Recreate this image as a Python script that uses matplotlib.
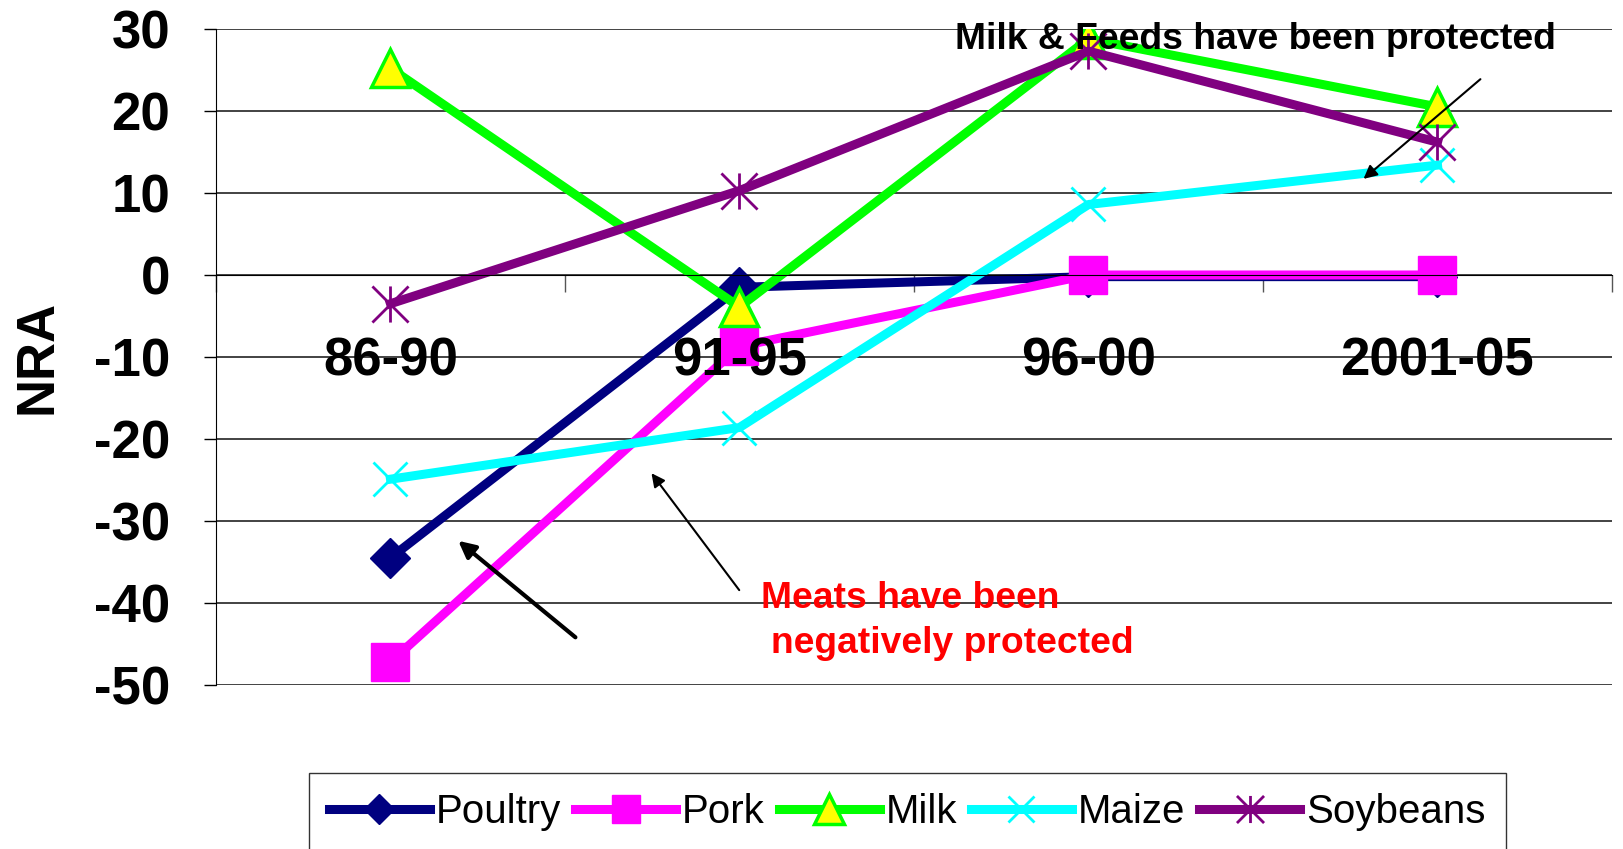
import numpy as np
import matplotlib
matplotlib.use('Agg')
import matplotlib.pyplot as plt
from matplotlib.path import Path

plt.rcParams['font.family'] = ['Liberation Sans', 'DejaVu Sans']
plt.rcParams['axes.unicode_minus'] = False

periods = ['86-90', '91-95', '96-00', '2001-05']
poultry = [-34.5, -1.5, -0.2, -0.2]
pork = [-47.2, -8.7, 0.0, 0.0]
milk = [25.2, -3.9, 28.8, 20.5]
maize = [-24.9, -18.6, 8.6, 13.4]
soybeans = [-3.5, 10.3, 27.3, 16.2]

# asterisk marker like excel's "*"
star = Path([(-1, -1), (1, 1), (-1, 1), (1, -1), (0, -1), (0, 1)],
            [Path.MOVETO, Path.LINETO, Path.MOVETO, Path.LINETO, Path.MOVETO, Path.LINETO])

fig = plt.figure(figsize=(16.24, 8.49), dpi=100)
ax = fig.add_axes([216/1624, 1-685/849, (1612-216)/1624, (685-29)/849])

x = np.arange(len(periods)) + 0.5
lw = 6.5
ax.plot(x, poultry, color='#000080', lw=lw, marker='D', ms=20, label='Poultry')
ax.plot(x, pork, color='#FF00FF', lw=lw, marker='s', ms=27, label='Pork')
ax.plot(x, milk, color='#00FF00', lw=lw, marker='^', ms=28, mfc='#FFFF00',
        mec='#00FF00', mew=2.5, label='Milk')
ax.plot(x, maize, color='#00FFFF', lw=lw, marker='x', ms=25, mew=2, label='Maize')
ax.plot(x, soybeans, color='#800080', lw=lw, marker=star, ms=26, mew=2, label='Soybeans')

ax.set_xlim(0, 4)
ax.set_ylim(-50, 30)
ax.set_yticks(np.arange(-50, 31, 10))
ax.yaxis.grid(True, color='#222222', lw=1.2)
ax.set_axisbelow(True)
ax.tick_params(axis='y', direction='out', length=9, width=1, pad=24, labelsize=38)
for t in ax.get_yticklabels():
    t.set_fontweight('bold')

ax.spines['top'].set_visible(False)
ax.spines['right'].set_visible(False)
ax.spines['bottom'].set_position(('data', 0))
ax.set_xticks(np.arange(0, 5))
ax.set_xticklabels([])
ax.tick_params(axis='x', direction='out', length=12, width=1, color='#555555')

for xi, p in zip(x, periods):
    ax.text(xi, -10.6, p, ha='center', va='center', fontsize=38, fontweight='bold')

ax.set_ylabel('NRA', fontsize=38, fontweight='bold')
ax.yaxis.set_label_coords(-0.110, 0.5)

ax.text(2.979, 28.7, 'Milk & Feeds have been protected', ha='center', va='center',
        fontsize=26.8, fontweight='bold')
ax.annotate('', xy=(3.282, 11.5), xytext=(3.629, 24.1),
            arrowprops=dict(arrowstyle='-|>', lw=1.5, color='black', mutation_scale=20))

ax.text(1.561, -39.4, 'Meats have been', ha='left', va='center', fontsize=26.8,
        fontweight='bold', color='#FF0000')
ax.text(1.59, -44.9, 'negatively protected', ha='left', va='center', fontsize=26.8,
        fontweight='bold', color='#FF0000')
ax.annotate('', xy=(1.243, -23.9), xytext=(1.504, -38.7),
            arrowprops=dict(arrowstyle='-|>', lw=1.5, color='black', mutation_scale=20))
ax.annotate('', xy=(0.688, -32.2), xytext=(1.036, -44.4),
            arrowprops=dict(arrowstyle='-|>', lw=3, color='black', mutation_scale=25))

leg = fig.legend(loc='upper left', bbox_to_anchor=(309/1624, 1-773/849), ncol=5,
                 fontsize=29, frameon=True, fancybox=False, edgecolor='black',
                 handlelength=2.5, handletextpad=0.15, columnspacing=0.35,
                 borderpad=0.5, borderaxespad=0, markerscale=0.75)
leg.get_frame().set_linewidth(1)

fig.savefig('out.png', dpi=100)
